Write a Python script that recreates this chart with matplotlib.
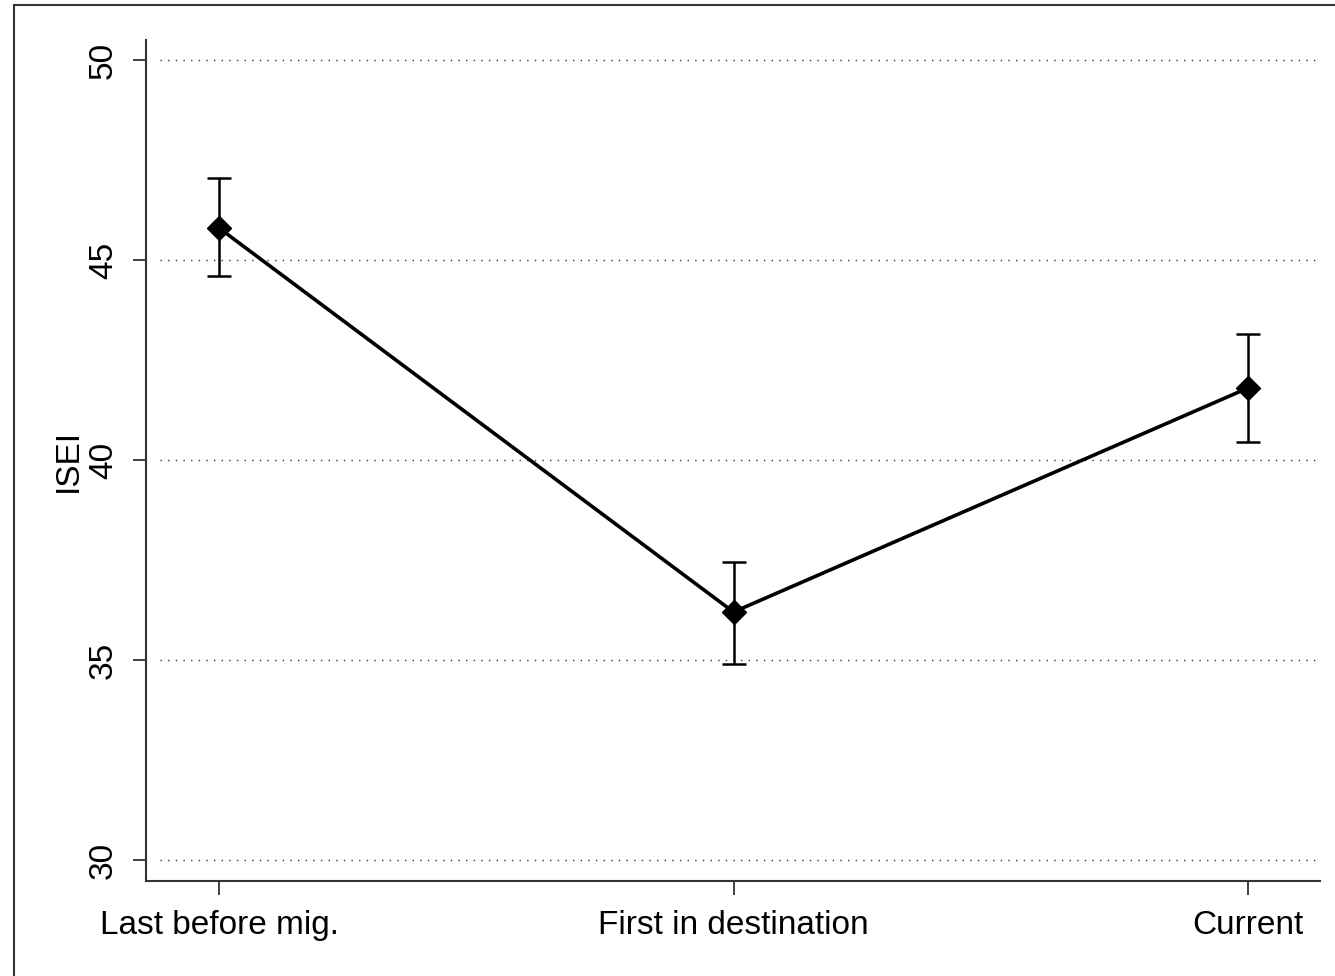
import matplotlib.pyplot as plt
from matplotlib.patches import Rectangle

plt.rcParams['font.family'] = ['Liberation Sans', 'DejaVu Sans']

# values
stages = ["Last before mig.", "First in destination", "Current"]
isei = [45.8, 36.2, 41.8]
ci_low = [44.6, 34.9, 40.45]
ci_high = [47.05, 37.45, 43.15]
yticks = [30, 35, 40, 45, 50]

fig = plt.figure(figsize=(13.35, 9.76), dpi=100)
ax = fig.add_axes([146/1335, 1 - 881/976, (1320 - 146)/1335, (881 - 40)/976])

# outer frame (cropped on the right and bottom)
fig.patches.append(Rectangle((14/1335, -0.1), 1.2, 1.1 - 5/976, transform=fig.transFigure,
                             fill=False, edgecolor='#333333', linewidth=1.5))

x = list(range(len(stages)))
yerr = [[m - lo for m, lo in zip(isei, ci_low)], [hi - m for m, hi in zip(isei, ci_high)]]

for y in yticks:
    ax.axhline(y, xmin=0.012, xmax=0.9975, color='#333333', linewidth=1,
               linestyle=(0, (1, 4.5)), zorder=0)

ax.errorbar(x, isei, yerr=yerr, fmt='none', ecolor='black', elinewidth=1.8,
            capsize=8.5, capthick=1.8, zorder=2)
ax.plot(x, isei, color='black', linewidth=2.6, marker='D', markersize=12.5, zorder=3)

ax.set_xlim(-73/514.5, 2 + 72/514.5)
ax.set_ylim(29.475, 50.5)
ax.set_xticks(x)
ax.set_xticklabels(stages, fontsize=24)
ax.set_yticks(yticks)
ax.set_yticklabels([str(v) for v in yticks], fontsize=24, rotation=90, va='center')
ax.set_ylabel("ISEI", fontsize=24, labelpad=3)

ax.tick_params(axis='y', length=9.5, width=1.3, color='#333333', pad=10)
ax.tick_params(axis='x', length=10, width=1.3, color='#333333', pad=11)

for side in ['top', 'right']:
    ax.spines[side].set_visible(False)
for side in ['left', 'bottom']:
    ax.spines[side].set_color('#333333')
    ax.spines[side].set_linewidth(1.5)

fig.savefig("out.png", dpi=100)
